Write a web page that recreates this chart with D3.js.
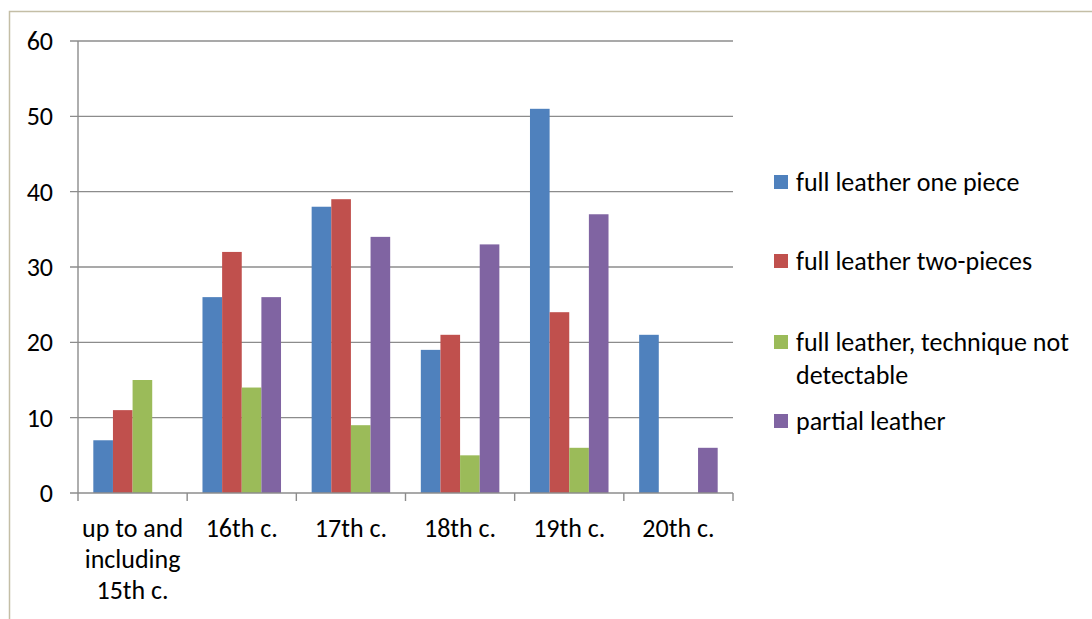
<!DOCTYPE html>
<html>
<head>
<meta charset="utf-8">
<script src="https://cdn.jsdelivr.net/npm/d3@7"></script>
<style>
  html, body { margin: 0; padding: 0; background: #fff; }
  svg { display: block; font-family: Carlito, Calibri, Lato, "Open Sans", sans-serif; }
</style>
</head>
<body>
<svg id="chart" width="1092" height="619"></svg>
<script>
// Bookbinding covers by century
const categories = ["up to and|including|15th c.", "16th c.", "17th c.", "18th c.", "19th c.", "20th c."];
const seriesNames = ["full leather one piece", "full leather two-pieces", "full leather, technique not detectable", "partial leather"];
const oneP   = [7, 26, 38, 19, 51, 21];
const twoP   = [11, 32, 39, 21, 24, 0];
const notDet = [15, 14, 9, 5, 6, 0];
const partial = [0, 26, 34, 33, 37, 6];
const yTicks = [0, 10, 20, 30, 40, 50, 60];
const colors = ["#4F81BD", "#C0504D", "#9BBB59", "#8064A2"];

const series = [oneP, twoP, notDet, partial];
const svg = d3.select("#chart");
const FS = 26;

// outer frame
svg.append("path")
  .attr("d", "M9.5,619 L9.5,11.5 L1092,11.5")
  .attr("fill", "none").attr("stroke", "#c4bea6").attr("stroke-width", 1.5);

const plot = { left: 78, right: 733, top: 41, bottom: 493 };

const x0 = d3.scaleBand().domain(d3.range(categories.length))
  .range([plot.left, plot.right]).paddingInner(0).paddingOuter(0);
const x1 = d3.scaleBand().domain(d3.range(series.length))
  .range([0, x0.bandwidth()]).paddingOuter(0.78).paddingInner(0);
const y = d3.scaleLinear().domain([0, 60]).range([plot.bottom, plot.top]);

// gridlines with left ticks
const grid = svg.append("g");
grid.selectAll("line").data(yTicks.filter(d => d > 0)).join("line")
  .attr("x1", plot.left - 8).attr("x2", plot.right)
  .attr("y1", d => y(d)).attr("y2", d => y(d))
  .attr("stroke", "#8c8c8c").attr("stroke-width", 1.4);

// bars
const groups = svg.append("g").selectAll("g").data(categories).join("g")
  .attr("transform", (d, i) => `translate(${x0(i)},0)`);
groups.selectAll("rect")
  .data((d, i) => series.map((s, j) => ({ j, v: s[i] })).filter(e => e.v > 0))
  .join("rect")
  .attr("x", d => x1(d.j)).attr("width", x1.bandwidth())
  .attr("y", d => y(d.v)).attr("height", d => y(0) - y(d.v))
  .attr("fill", d => colors[d.j]);

// axes
const axisColor = "#8c8c8c";
svg.append("line").attr("x1", plot.left).attr("x2", plot.left)
  .attr("y1", plot.top).attr("y2", plot.bottom)
  .attr("stroke", axisColor).attr("stroke-width", 1.4);
svg.append("line").attr("x1", plot.left - 8).attr("x2", plot.right)
  .attr("y1", plot.bottom).attr("y2", plot.bottom)
  .attr("stroke", axisColor).attr("stroke-width", 1.4);
svg.append("g").selectAll("line").data(d3.range(categories.length + 1)).join("line")
  .attr("x1", i => plot.left + i * x0.bandwidth()).attr("x2", i => plot.left + i * x0.bandwidth())
  .attr("y1", plot.bottom).attr("y2", plot.bottom + 8)
  .attr("stroke", axisColor).attr("stroke-width", 1.4);

// y tick labels
svg.append("g").selectAll("text").data(yTicks).join("text")
  .attr("x", 53).attr("y", d => y(d)).attr("dy", "0.35em")
  .attr("text-anchor", "end").attr("font-size", FS).attr("fill", "#000")
  .text(d => d);

// category labels
const cat = svg.append("g").selectAll("text").data(categories).join("text")
  .attr("x", (d, i) => x0(i) + x0.bandwidth() / 2)
  .attr("y", 537).attr("text-anchor", "middle").attr("font-size", FS).attr("fill", "#000");
cat.selectAll("tspan").data(d => d.split("|")).join("tspan")
  .attr("x", function () { return this.parentNode.getAttribute("x"); })
  .attr("dy", (d, k) => k === 0 ? 0 : 31)
  .text(d => d);

// legend
const legendRows = [182, 261, 342, 421];
const legendLines = [["full leather one piece"], ["full leather two-pieces"], ["full leather, technique not", "detectable"], ["partial leather"]];
const leg = svg.append("g").selectAll("g").data(seriesNames).join("g");
leg.append("rect")
  .attr("x", 774).attr("y", (d, i) => legendRows[i] - 7)
  .attr("width", 14).attr("height", 14)
  .attr("fill", (d, i) => colors[i]);
leg.append("text")
  .attr("x", 796).attr("y", (d, i) => legendRows[i])
  .attr("font-size", FS).attr("fill", "#000")
  .selectAll("tspan").data((d, i) => legendLines[i]).join("tspan")
  .attr("x", 796).attr("dy", (d, k) => k === 0 ? "0.35em" : 33)
  .text(d => d);
</script>
</body>
</html>
